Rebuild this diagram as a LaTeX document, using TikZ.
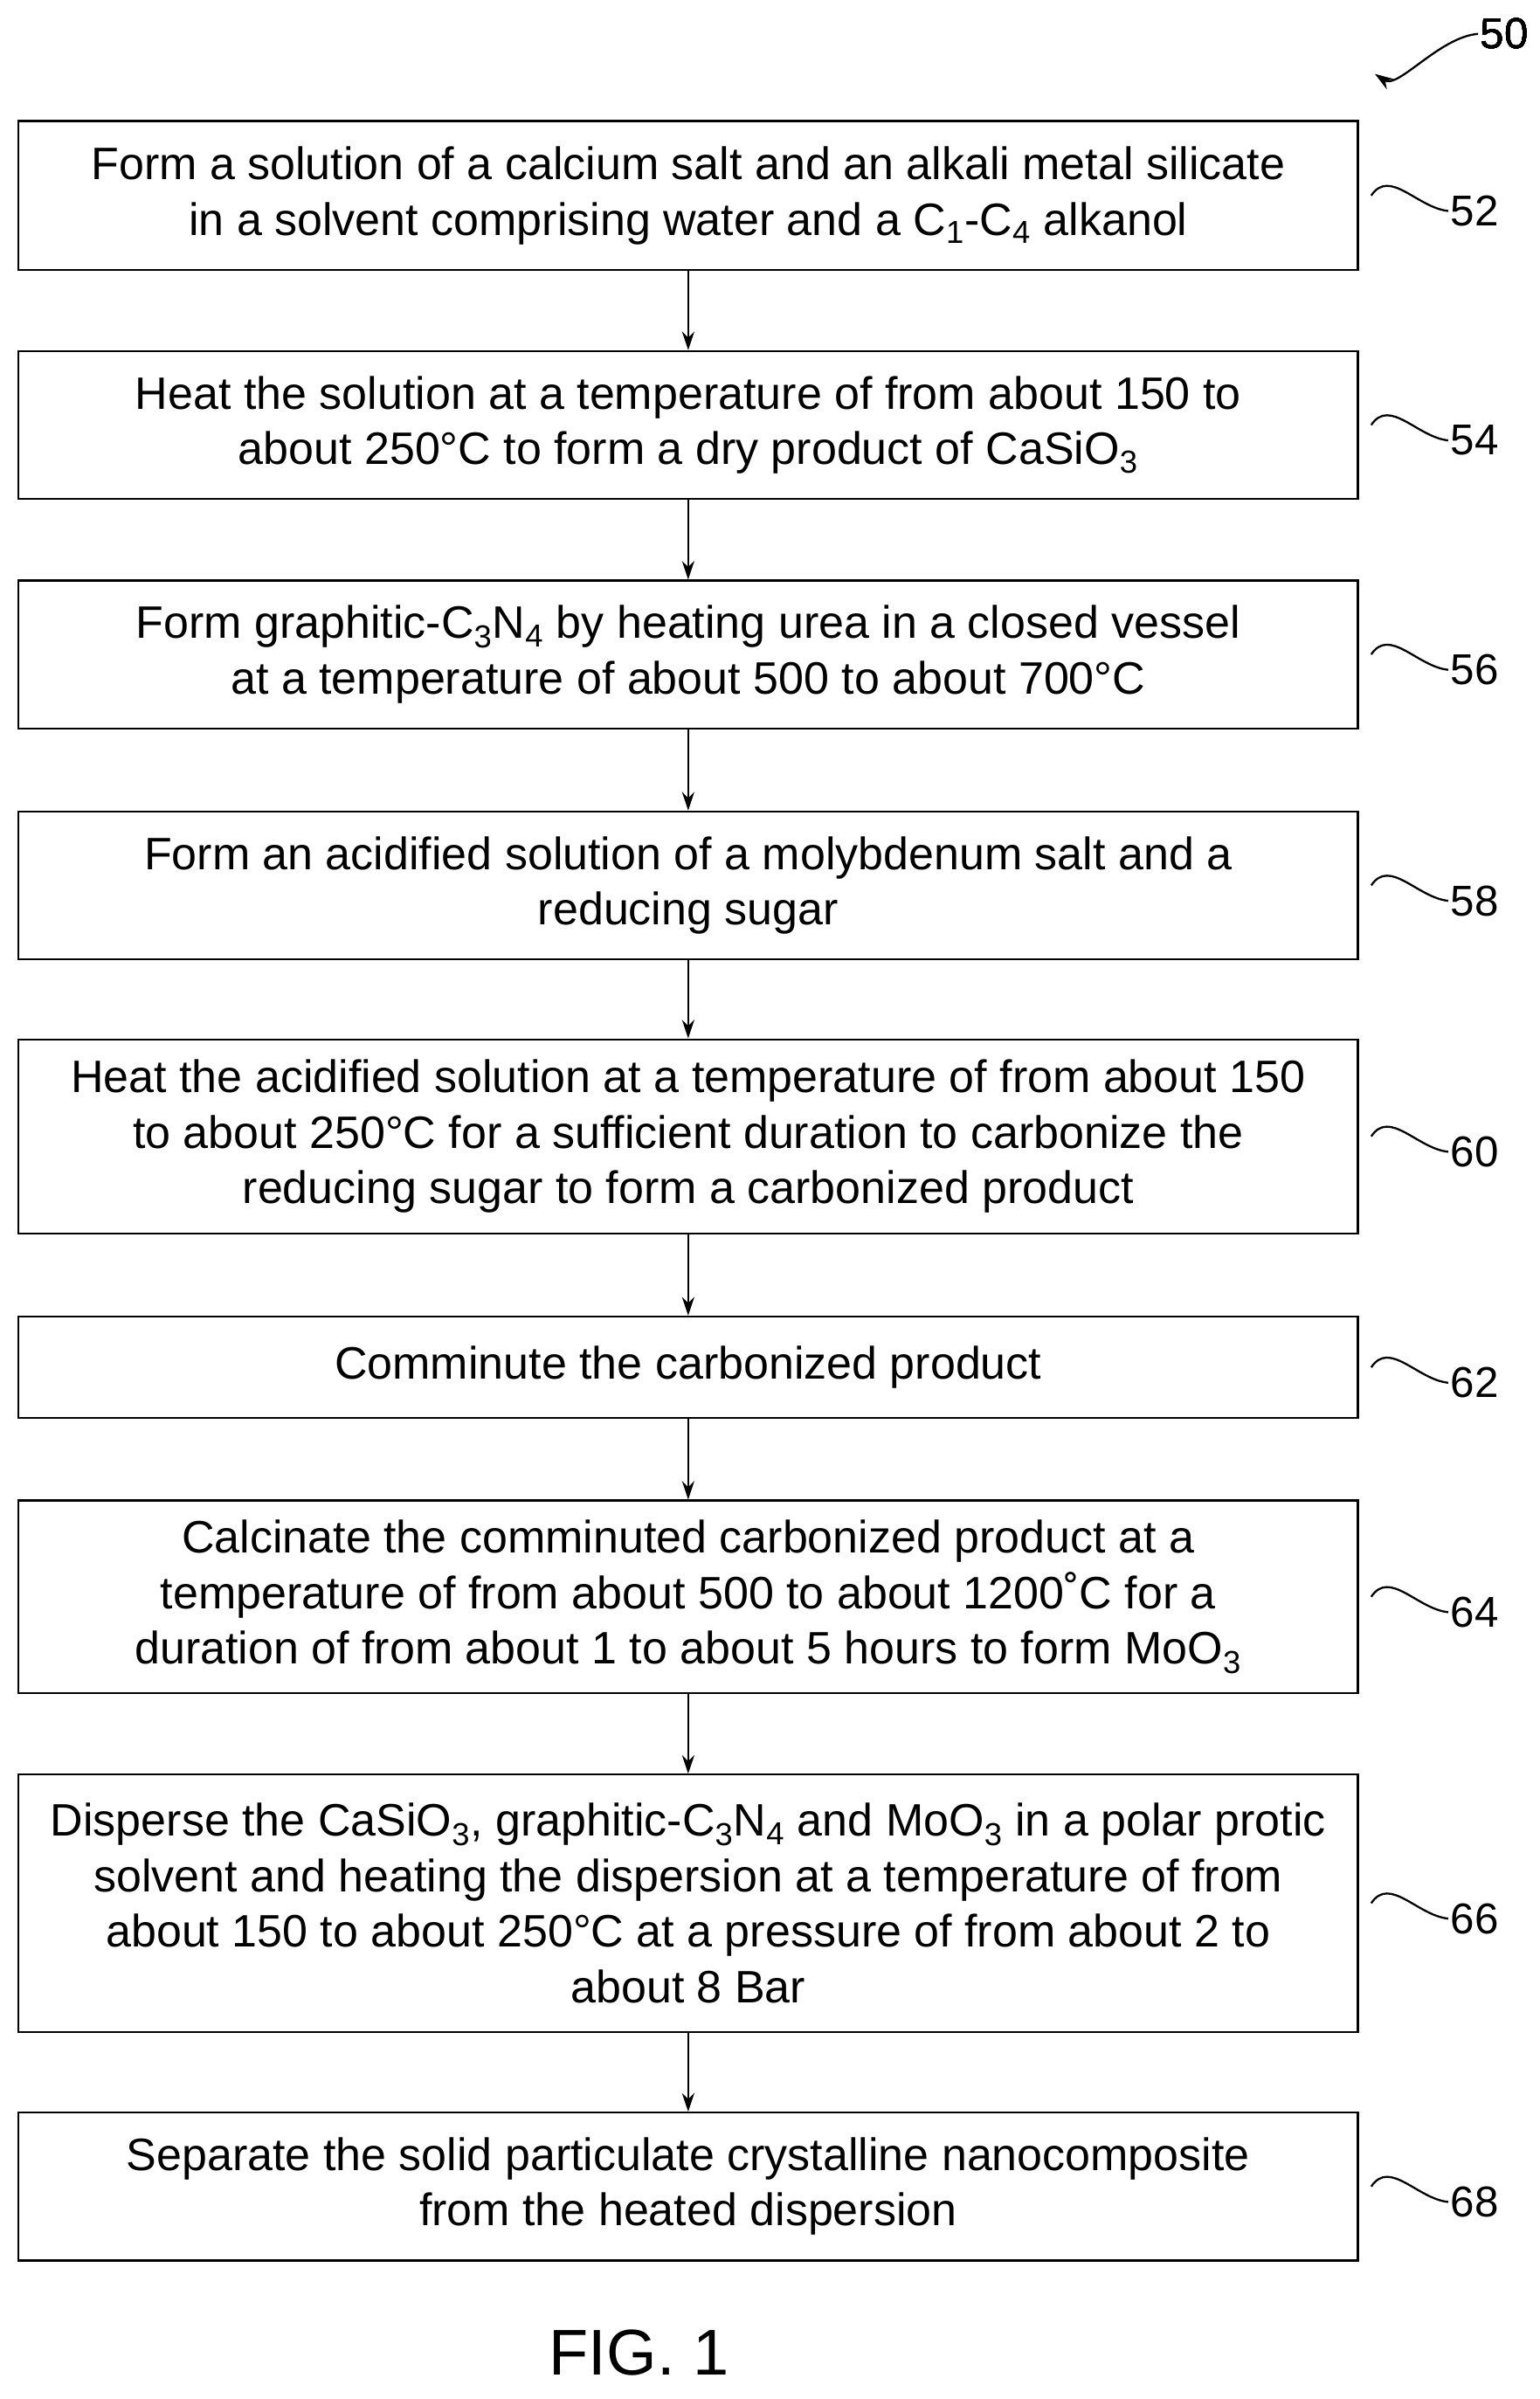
\documentclass[tikz,border=0pt]{standalone}
\usepackage{fontspec}
\setmainfont{Liberation Sans}
\usetikzlibrary{arrows.meta}
\tikzset{every path/.style={line width=1.3pt},
  stepbox/.style={draw,minimum width=870pt,align=center,font=\fontsize{29.5}{36}\selectfont,inner sep=0pt},
  steparrow/.style={-{Stealth[length=12pt,width=8pt]}},
  reflabel/.style={font=\fontsize{28}{30}\selectfont,anchor=west,inner sep=1pt}}
\newcommand{\stepref}[2]{%
  \draw (#1.east) ++(8pt,0) coordinate (s#2) .. controls +(12pt,18pt) and +(-20pt,2pt) .. ++(50pt,-10pt) node[reflabel] (l#2) {#2};}
\newcommand{\sub}[1]{\textsubscript{#1}}
\begin{document}
\begin{tikzpicture}[x=1pt,y=-1pt]
\useasboundingbox (0,0) rectangle (1000,1558);
\node[stepbox,minimum height=97pt] (b52) at (447,127) {Form a solution of a calcium salt and an alkali metal silicate\\in a solvent comprising water and a C\sub{1}-C\sub{4} alkanol};
\node[stepbox,minimum height=96pt] (b54) at (447,276) {Heat the solution at a temperature of from about 150 to\\about 250°C to form a dry product of CaSiO\sub{3}};
\node[stepbox,minimum height=96pt] (b56) at (447,425) {Form graphitic-C\sub{3}N\sub{4} by heating urea in a closed vessel\\at a temperature of about 500 to about 700°C};
\node[stepbox,minimum height=96pt] (b58) at (447,575) {Form an acidified solution of a molybdenum salt and a\\reducing sugar};
\node[stepbox,minimum height=126pt] (b60) at (447,738) {Heat the acidified solution at a temperature of from about 150\\to about 250°C for a sufficient duration to carbonize the\\reducing sugar to form a carbonized product};
\node[stepbox,minimum height=66pt] (b62) at (447,888) {Comminute the carbonized product};
\node[stepbox,minimum height=125pt] (b64) at (447,1037) {Calcinate the comminuted carbonized product at a\\temperature of from about 500 to about 1200˚C for a\\duration of from about 1 to about 5 hours to form MoO\sub{3}};
\node[stepbox,minimum height=167pt] (b66) at (447,1236) {Disperse the CaSiO\sub{3}, graphitic-C\sub{3}N\sub{4} and MoO\sub{3} in a polar protic\\solvent and heating the dispersion at a temperature of from\\about 150 to about 250°C at a pressure of from about 2 to\\about 8 Bar};
\node[stepbox,minimum height=96pt] (b68) at (447,1420) {Separate the solid particulate crystalline nanocomposite\\from the heated dispersion};
\foreach \a/\b in {52/54,54/56,56/58,58/60,60/62,62/64,64/66,66/68}
  \draw[steparrow] (b\a) -- (b\b);
\foreach \n in {52,54,56,58,60,62,64,66,68}
  \stepref{b\n}{\n}
\node[reflabel] (l50) at (960,22) {50};
\draw[steparrow] (l50.west) .. controls +(-25pt,-2pt) and +(15pt,-10pt) .. (893,48);
\node[font=\fontsize{42}{48}\selectfont] (fig) at (415,1528) {FIG. 1};
\end{tikzpicture}
\end{document}
